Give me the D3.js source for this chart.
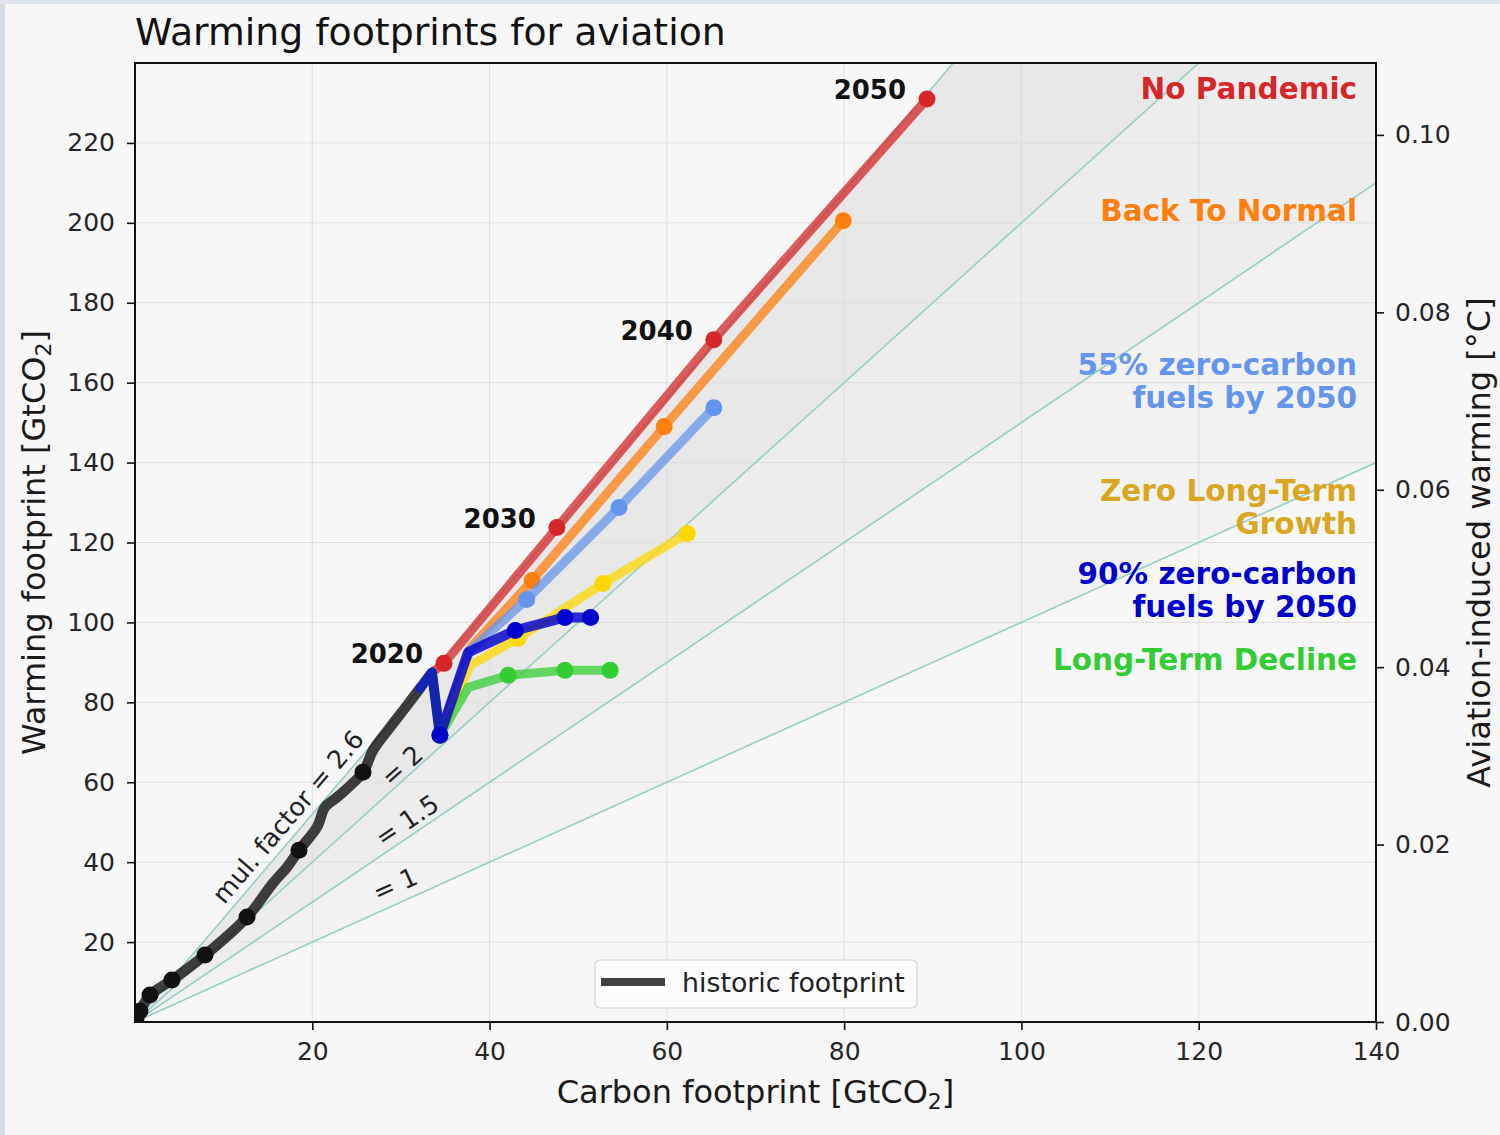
<!DOCTYPE html>
<html>
<head>
<meta charset="utf-8">
<script src="https://cdn.jsdelivr.net/npm/d3@7"></script>
<style>
  body { margin: 0; background: #f7f7f7; }
  svg { display: block; font-family: "DejaVu Sans", sans-serif; }
</style>
</head>
<body>
<svg id="chart" width="1500" height="1135"></svg>
<script>
// ---- Data (GtCO2 for both footprints) ----
const historicCarbon  = [0.1, 0.56, 1.69, 4.17, 7.9, 12.64, 15.57, 17.15, 18.5, 20.53, 21.43, 22.79, 25.72, 26.85, 28.77, 30.69, 32.15];
const historicWarming = [0.75, 2.75, 6.75, 10.5, 16.75, 26.25, 34.75, 38.75, 43, 48.75, 53.75, 56.25, 62.5, 68, 73.75, 79.25, 83.5];
const historicMarked  = [true, true, true, true, true, true, false, false, true, false, false, false, true, false, false, false, false];

const scenarioNames = ["No Pandemic", "Back To Normal", "55% zero-carbon\nfuels by 2050",
                       "Zero Long-Term\nGrowth", "Long-Term Decline", "90% zero-carbon\nfuels by 2050"];
const scenarioColors = ["#d62728", "#ff7f0e", "#6495ed", "#ffd700", "#32cd32", "#0000cd"];
const scenarioTextColors = ["#d62728", "#ff7f0e", "#6495ed", "#daa520", "#32cd32", "#0000cd"];

const noPandemicYears   = [2018, 2019, 2020, 2030, 2040, 2050];
const noPandemicCarbon  = [32.15, 33.5, 34.86, 47.6, 65.3, 89.35];
const noPandemicWarming = [83.5, 87.5, 89.75, 123.75, 170.75, 231];

const pandemicYears = [2018, 2019, 2020, 2021, 2030, 2040, 2050];
const backToNormalCarbon  = [32.15, 33.5, 34.4, 37.8, 44.8, 59.7, 79.9];
const backToNormalWarming = [83.5, 87.5, 71.75, 93.5, 110.5, 149, 200.5];
const zc55Carbon  = [32.15, 33.5, 34.4, 37.8, 44.2, 54.6, 65.3];
const zc55Warming = [83.5, 87.5, 71.75, 93, 105.75, 128.75, 153.75];
const zeroGrowthCarbon  = [32.15, 33.5, 34.4, 37.8, 43.2, 52.8, 62.3];
const zeroGrowthWarming = [83.5, 87.5, 71.75, 89.25, 96, 109.75, 122.25];
const declineCarbon  = [32.15, 33.5, 34.4, 37.6, 42.1, 48.5, 53.6];
const declineWarming = [83.5, 87.5, 71.75, 83.75, 86.75, 88, 88];
const zc90Carbon  = [32.15, 33.5, 34.4, 37.57, 42.9, 48.5, 51.4];
const zc90Warming = [83.5, 87.5, 71.75, 92.5, 98, 101.25, 101.25];

const markedYears = [2020, 2030, 2040, 2050];
const mulFactors = [1, 1.5, 2, 2.6];
const mulFactorLabels = ["= 1", "= 1.5", "= 2", "mul. factor = 2.6"];

const xTicks = [20, 40, 60, 80, 100, 120, 140];
const yTicks = [20, 40, 60, 80, 100, 120, 140, 160, 180, 200, 220];
const yRightTicks = [0, 0.02, 0.04, 0.06, 0.08, 0.10];
const warmingPerGt = 0.1 / 222;   // °C per GtCO2 of warming footprint

// ---- Layout ----
const W = 1500, H = 1135;
const plot = { left: 135, right: 1376, top: 63, bottom: 1022 };
const x = d3.scaleLinear().domain([0, 140]).range([plot.left, plot.right]);
const y = d3.scaleLinear().domain([0, 240]).range([plot.bottom, plot.top]);
const yR = d3.scaleLinear().domain([0, 240 * warmingPerGt]).range([plot.bottom, plot.top]);

const svg = d3.select("#chart");
svg.append("rect").attr("width", W).attr("height", H).attr("fill", "#f7f7f7");
svg.append("rect").attr("width", 5).attr("height", H).attr("fill", "#d5dce6");
svg.append("rect").attr("width", W).attr("height", 4).attr("fill", "#dfe5ec");

svg.append("defs").append("clipPath").attr("id", "plotClip")
  .append("rect").attr("x", plot.left).attr("y", plot.top)
  .attr("width", plot.right - plot.left).attr("height", plot.bottom - plot.top);

const body = svg.append("g").attr("clip-path", "url(#plotClip)");

// shaded wedges between each multiplication factor and the upper one
const topFactor = d3.max(mulFactors);
mulFactors.filter(m => m < topFactor).forEach(m => {
  const xe = 140;
  body.append("path")
    .attr("d", `M${x(0)},${y(0)}L${x(xe)},${y(m * xe)}L${x(xe)},${y(topFactor * xe)}Z`)
    .attr("fill", "#000").attr("fill-opacity", 0.018);
});

// grid
body.append("g").selectAll("line").data(xTicks.slice(0, -1)).join("line")
  .attr("x1", d => x(d)).attr("x2", d => x(d)).attr("y1", plot.top).attr("y2", plot.bottom)
  .attr("stroke", "#dedede").attr("stroke-width", 1);
body.append("g").selectAll("line").data(yTicks).join("line")
  .attr("y1", d => y(d)).attr("y2", d => y(d)).attr("x1", plot.left).attr("x2", plot.right)
  .attr("stroke", "#dedede").attr("stroke-width", 1);

// multiplication factor lines
body.append("g").selectAll("line").data(mulFactors).join("line")
  .attr("x1", x(0)).attr("y1", y(0))
  .attr("x2", x(140)).attr("y2", m => y(m * 140))
  .attr("stroke", "#97ccc4").attr("stroke-width", 1.6);

// labels along the factor lines
const mulLabelPos = [
  { along: 30.2, off: 18.6 }, { along: 31.6, off: 14.7 },
  { along: 31.0, off: 11.8 }, { along: 18.7, off: 16.9 }
];
mulFactors.forEach((m, i) => {
  const px = x(mulLabelPos[i].along), py = y(m * mulLabelPos[i].along);
  const ang = Math.atan2(y(0) - y(m * 10), x(10) - x(0)) * 180 / Math.PI;
  svg.append("text")
    .attr("transform", `translate(${px},${py}) rotate(${-ang})`)
    .attr("y", -mulLabelPos[i].off)
    .attr("dominant-baseline", "central")
    .attr("text-anchor", "middle")
    .attr("font-size", 25.5).attr("fill", "#222")
    .text(mulFactorLabels[i]);
});

// historic footprint
const hist = historicCarbon.map((c, i) => ({ c, w: historicWarming[i], mark: historicMarked[i] }));
const line = d3.line().x(d => x(d.c)).y(d => y(d.w));
const smoothLine = d3.line().x(d => x(d.c)).y(d => y(d.w)).curve(d3.curveCatmullRom.alpha(0.5));
body.append("path").datum(hist).attr("d", smoothLine)
  .attr("fill", "none").attr("stroke", "#000").attr("stroke-opacity", 0.74)
  .attr("stroke-width", 10.5).attr("stroke-linejoin", "round").attr("stroke-linecap", "round");
body.append("g").selectAll("circle").data(hist.filter(d => d.mark)).join("circle")
  .attr("cx", d => x(d.c)).attr("cy", d => y(d.w)).attr("r", 8.5).attr("fill", "#111");

// scenarios (last one drawn on top)
const scenarios = [
  { years: noPandemicYears, carbon: noPandemicCarbon, warming: noPandemicWarming },
  { years: pandemicYears, carbon: backToNormalCarbon, warming: backToNormalWarming },
  { years: pandemicYears, carbon: zc55Carbon, warming: zc55Warming },
  { years: pandemicYears, carbon: zeroGrowthCarbon, warming: zeroGrowthWarming },
  { years: pandemicYears, carbon: declineCarbon, warming: declineWarming },
  { years: pandemicYears, carbon: zc90Carbon, warming: zc90Warming }
].map((s, i) => ({
  ...s, name: scenarioNames[i], color: scenarioColors[i], textColor: scenarioTextColors[i],
  pts: s.years.map((yr, j) => ({ yr, c: s.carbon[j], w: s.warming[j] }))
}));

scenarios.forEach((s, i) => {
  const isTop = i === scenarios.length - 1;
  body.append("path").datum(s.pts).attr("d", line)
    .attr("fill", "none").attr("stroke", s.color)
    .attr("stroke-opacity", isTop ? 0.82 : 0.75)
    .attr("stroke-width", isTop ? 10 : 9)
    .attr("stroke-linejoin", "round").attr("stroke-linecap", "round");
  body.append("g").selectAll("circle")
    .data(s.pts.filter(p => markedYears.includes(p.yr))).join("circle")
    .attr("cx", p => x(p.c)).attr("cy", p => y(p.w)).attr("r", 8.5).attr("fill", s.color);
});

// decade labels next to the no-pandemic path
scenarios[0].pts.filter(p => markedYears.includes(p.yr)).forEach(p => {
  svg.append("text").attr("x", x(p.c) - 21).attr("y", y(p.w))
    .attr("text-anchor", "end").attr("font-size", 26).attr("font-weight", "bold")
    .attr("fill", "#111").text(p.yr);
});

// scenario names on the right, last line level with the 2050 value
scenarios.forEach(s => {
  const lines = s.name.split("\n");
  const end = s.pts[s.pts.length - 1];
  const t = svg.append("text").attr("text-anchor", "end")
    .attr("font-size", 29.5).attr("font-weight", "bold").attr("fill", s.textColor);
  lines.forEach((ln, k) => {
    t.append("tspan").attr("x", 1357)
      .attr("y", y(end.w) - (lines.length - 1 - k) * 33).text(ln);
  });
});

// frame
svg.append("rect").attr("x", plot.left).attr("y", plot.top)
  .attr("width", plot.right - plot.left).attr("height", plot.bottom - plot.top)
  .attr("fill", "none").attr("stroke", "#111").attr("stroke-width", 2);

// axes
function styleAxis(g) {
  g.select(".domain").remove();
  g.selectAll(".tick line").attr("stroke", "#111").attr("stroke-width", 1.6);
  g.selectAll(".tick text").attr("font-size", 25).attr("fill", "#262626")
    .attr("font-family", "DejaVu Sans, sans-serif");
}
svg.append("g").attr("transform", `translate(0,${plot.bottom})`)
  .call(d3.axisBottom(x).tickValues(xTicks).tickSize(8).tickPadding(12).tickFormat(d3.format("d")))
  .call(styleAxis);
svg.append("g").attr("transform", `translate(${plot.left},0)`)
  .call(d3.axisLeft(y).tickValues(yTicks).tickSize(8).tickPadding(12).tickFormat(d3.format("d")))
  .call(styleAxis);
svg.append("g").attr("transform", `translate(${plot.right},0)`)
  .call(d3.axisRight(yR).tickValues(yRightTicks).tickSize(8).tickPadding(11).tickFormat(d3.format(".2f")))
  .call(styleAxis);

// axis titles
const xTitle = svg.append("text").attr("x", (plot.left + plot.right) / 2).attr("y", 1103)
  .attr("text-anchor", "middle").attr("font-size", 32).attr("fill", "#1a1a1a");
xTitle.append("tspan").text("Carbon footprint [GtCO");
xTitle.append("tspan").attr("font-size", 22).attr("dy", 6).text("2");
xTitle.append("tspan").attr("dy", -6).text("]");

const yTitle = svg.append("text")
  .attr("transform", `translate(45,${(plot.top + plot.bottom) / 2}) rotate(-90)`)
  .attr("text-anchor", "middle").attr("font-size", 32).attr("fill", "#1a1a1a");
yTitle.append("tspan").text("Warming footprint [GtCO");
yTitle.append("tspan").attr("font-size", 22).attr("dy", 6).text("2");
yTitle.append("tspan").attr("dy", -6).text("]");

svg.append("text")
  .attr("transform", `translate(1490,${(plot.top + plot.bottom) / 2}) rotate(-90)`)
  .attr("text-anchor", "middle").attr("font-size", 32).attr("fill", "#1a1a1a")
  .text("Aviation-induced warming [°C]");

// title
svg.append("text").attr("x", plot.left).attr("y", 45)
  .attr("font-size", 37.8).attr("fill", "#111").text("Warming footprints for aviation");

// legend
const lg = svg.append("g");
lg.append("rect").attr("x", 595).attr("y", 960).attr("width", 322).attr("height", 48)
  .attr("rx", 5).attr("fill", "#fcfcfc").attr("stroke", "#d2d2d2").attr("stroke-width", 1.2);
lg.append("line").attr("x1", 601).attr("x2", 665).attr("y1", 982).attr("y2", 982)
  .attr("stroke", "#000").attr("stroke-opacity", 0.74).attr("stroke-width", 8);
lg.append("text").attr("x", 682).attr("y", 992).attr("font-size", 26.8).attr("fill", "#222")
  .text("historic footprint");
</script>
</body>
</html>
